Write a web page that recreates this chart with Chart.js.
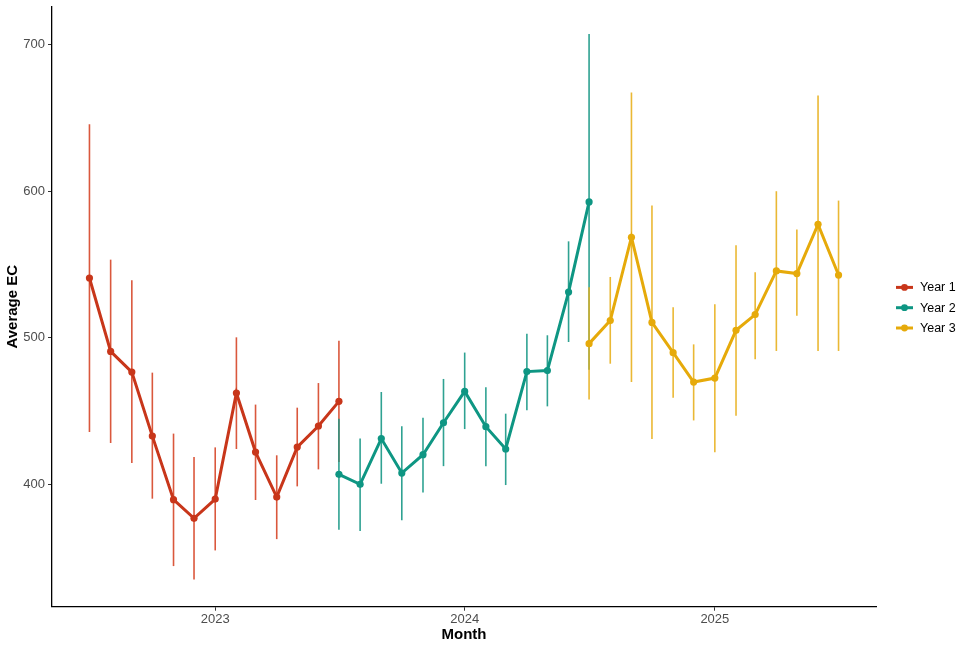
<!DOCTYPE html>
<html>
<head>
<meta charset="utf-8">
<script src="https://cdn.jsdelivr.net/npm/chart.js@4.4.1/dist/chart.umd.min.js"></script>
<style>
  html, body { margin: 0; padding: 0; background: #ffffff; }
  #wrap { width: 971px; height: 648px; position: relative; }
</style>
</head>
<body>
<div id="wrap"><canvas id="c" width="971" height="648"></canvas></div>
<script>
// ---- Data ----
const year1Months = ['2022-07','2022-08','2022-09','2022-10','2022-11','2022-12','2023-01','2023-02','2023-03','2023-04','2023-05','2023-06','2023-07'];
const year1Mean = [540.7, 490.6, 476.5, 432.8, 389.4, 376.7, 389.8, 462.2, 421.9, 391.2, 425.3, 439.7, 456.5];
const year1Low  = [435.6, 428.1, 414.4, 390.1, 344.1, 335.0, 354.8, 424.0, 389.2, 362.5, 398.5, 410.1, 415.1];
const year1High = [645.6, 553.2, 539.1, 476.1, 434.5, 418.5, 425.1, 500.2, 454.3, 419.7, 452.2, 469.0, 497.9];

const year2Months = ['2023-07','2023-08','2023-09','2023-10','2023-11','2023-12','2024-01','2024-02','2024-03','2024-04','2024-05','2024-06','2024-07'];
const year2Mean = [406.7, 399.9, 431.1, 407.6, 420.1, 441.9, 463.3, 439.2, 424.0, 476.8, 477.5, 531.1, 592.6];
const year2Low  = [368.9, 368.0, 400.3, 375.3, 394.4, 412.3, 437.6, 412.3, 399.4, 450.4, 453.1, 497.0, 478.0];
const year2High = [444.7, 431.1, 462.9, 439.5, 445.4, 471.8, 489.8, 466.1, 448.1, 502.7, 501.6, 565.7, 707.2];

const year3Months = ['2024-07','2024-08','2024-09','2024-10','2024-11','2024-12','2025-01','2025-02','2025-03','2025-04','2025-05','2025-06','2025-07'];
const year3Mean = [495.9, 511.6, 568.5, 510.4, 489.7, 469.7, 472.4, 505.0, 515.7, 545.5, 543.7, 577.3, 542.7];
const year3Low  = [457.7, 482.2, 469.7, 430.8, 459.0, 443.5, 421.7, 446.7, 485.2, 490.9, 515.0, 490.9, 490.9];
const year3High = [534.3, 541.4, 667.2, 590.1, 520.7, 495.4, 522.7, 563.0, 544.6, 599.9, 573.7, 665.2, 593.5];

const seriesLabels = ['Year 1', 'Year 2', 'Year 3'];
const xTickYears = ['2023', '2024', '2025'];
const yTicks = [400, 500, 600, 700];

// ---- Helpers ----
const DAY = 86400000;
function toDay(s) {
  const p = s.split('-').map(Number);
  return Date.UTC(p[0], (p[1] || 1) - 1, 1) / DAY;
}
function fromDayYear(d) { return new Date(d * DAY).getUTCFullYear(); }

const colors = ['#C8361A', '#0E9683', '#E6AA0A'];
const barColors = ['rgba(214,70,40,0.9)', 'rgba(24,152,134,0.9)', 'rgba(232,176,30,0.9)'];

const seriesMonths = [year1Months, year2Months, year3Months];
const seriesMean = [year1Mean, year2Mean, year3Mean];
const seriesLow = [year1Low, year2Low, year3Low];
const seriesHigh = [year1High, year2High, year3High];

const datasets = seriesLabels.map((lab, k) => ({
  label: lab,
  data: seriesMonths[k].map((m, i) => ({ x: toDay(m), y: seriesMean[k][i] })),
  low: seriesLow[k],
  high: seriesHigh[k],
  borderColor: colors[k],
  backgroundColor: colors[k],
  barColor: barColors[k],
  borderWidth: 3,
  pointRadius: 3.6,
  pointHoverRadius: 3.6,
  pointBorderWidth: 0,
  tension: 0,
  fill: false
}));

// ggplot-like 5% expansion
const allX = datasets.flatMap(d => d.data.map(p => p.x));
const xMinD = Math.min(...allX), xMaxD = Math.max(...allX);
const xPad = (xMaxD - xMinD) * 0.05;
const allLow = [].concat(...seriesLow), allHigh = [].concat(...seriesHigh);
const yMinD = Math.min(...allLow), yMaxD = Math.max(...allHigh);
const yPad = (yMaxD - yMinD) * 0.05;

const errorBars = {
  id: 'errorBars',
  beforeDatasetsDraw(chart) {
    const ctx = chart.ctx;
    const xs = chart.scales.x, ys = chart.scales.y;
    ctx.save();
    chart.data.datasets.forEach((ds) => {
      ctx.strokeStyle = ds.barColor;
      ctx.lineWidth = 1.6;
      ds.data.forEach((p, i) => {
        const px = xs.getPixelForValue(p.x);
        ctx.beginPath();
        ctx.moveTo(px, ys.getPixelForValue(ds.low[i]));
        ctx.lineTo(px, ys.getPixelForValue(ds.high[i]));
        ctx.stroke();
      });
    });
    ctx.restore();
  }
};

const ggLegend = {
  id: 'ggLegend',
  afterDraw(chart) {
    const ctx = chart.ctx;
    const area = chart.chartArea;
    const n = chart.data.datasets.length;
    const gap = 20.3;
    const cy = (area.top + area.bottom) / 2 + 1;
    const x0 = 896, x1 = 913, tx = 920;
    ctx.save();
    chart.data.datasets.forEach((ds, i) => {
      const y = cy + (i - (n - 1) / 2) * gap;
      ctx.strokeStyle = ds.borderColor;
      ctx.lineWidth = 3;
      ctx.beginPath(); ctx.moveTo(x0, y); ctx.lineTo(x1, y); ctx.stroke();
      ctx.fillStyle = ds.borderColor;
      ctx.beginPath(); ctx.arc((x0 + x1) / 2, y, 3.4, 0, Math.PI * 2); ctx.fill();
      ctx.fillStyle = '#000';
      ctx.font = '12.5px "Liberation Sans", Arial, sans-serif';
      ctx.textBaseline = 'middle';
      ctx.textAlign = 'left';
      ctx.fillText(ds.label, tx, y + 0.5);
    });
    ctx.restore();
  }
};

const FONT = '"Liberation Sans", Arial, sans-serif';

new Chart(document.getElementById('c'), {
  type: 'line',
  data: { datasets },
  plugins: [errorBars, ggLegend],
  options: {
    responsive: false,
    devicePixelRatio: 1,
    animation: false,
    layout: { padding: { top: 6.7, right: 95, bottom: 0, left: 0 } },
    plugins: { legend: { display: false }, tooltip: { enabled: false } },
    scales: {
      x: {
        type: 'linear',
        min: xMinD - xPad,
        max: xMaxD + xPad,
        afterBuildTicks(scale) { scale.ticks = xTickYears.map(y => ({ value: toDay(y + '-01') })); },
        afterFit(scale) { scale.height = 41.3; scale.paddingLeft = 0; scale.paddingRight = 0; },
        ticks: {
          callback: (v) => String(fromDayYear(v)),
          color: '#4D4D4D',
          font: { family: FONT, size: 13 },
          padding: 1,
          maxRotation: 0,
          autoSkip: false
        },
        grid: { display: true, drawOnChartArea: false, drawTicks: true, tickLength: 4, tickColor: '#333333', tickWidth: 1 },
        border: { display: true, color: '#000000', width: 1.3 },
        title: { display: true, text: 'Month', color: '#000', font: { family: FONT, size: 15, weight: 'bold' }, padding: { top: 0, bottom: 4 } }
      },
      y: {
        type: 'linear',
        min: yMinD - yPad,
        max: yMaxD + yPad,
        afterBuildTicks(scale) { scale.ticks = yTicks.map(v => ({ value: v })); },
        afterFit(scale) { scale.width = 52; scale.paddingTop = 0; scale.paddingBottom = 0; },
        ticks: {
          color: '#4D4D4D',
          font: { family: FONT, size: 13 },
          padding: 3
        },
        grid: { display: true, drawOnChartArea: false, drawTicks: true, tickLength: 4, tickColor: '#333333', tickWidth: 1 },
        border: { display: true, color: '#000000', width: 1.3 },
        title: { display: true, text: 'Average EC', color: '#000', font: { family: FONT, size: 15, weight: 'bold' }, padding: { top: 4, bottom: 0 } }
      }
    }
  }
});
</script>
</body>
</html>
